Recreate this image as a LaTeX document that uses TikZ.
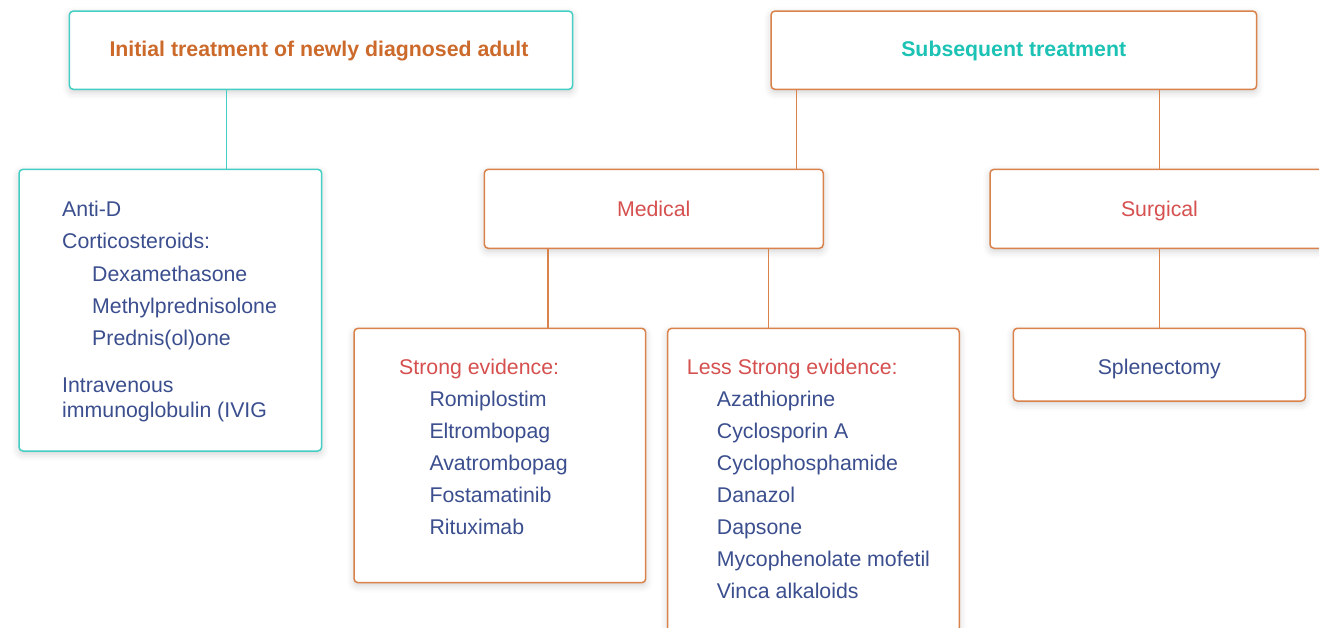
\documentclass[tikz,border=0pt]{standalone}
\usepackage{fontspec}
\setmainfont{Liberation Sans}
\usetikzlibrary{shadows.blur}
\definecolor{tealline}{HTML}{45CFC4}
\definecolor{tealtext}{HTML}{1CC3B5}
\definecolor{orangeline}{HTML}{D9824B}
\definecolor{orangetext}{HTML}{CC6A2C}
\definecolor{redtext}{HTML}{D5504F}
\definecolor{bluetext}{HTML}{3B4E8E}
\tikzset{
  boxbase/.style={draw, line width=1.5pt, rounded corners=4pt, fill=white, inner sep=0pt,
    blur shadow={shadow xshift=0pt, shadow yshift=-3pt, shadow blur radius=7pt, shadow opacity=18}},
  tealbox/.style={boxbase, draw=tealline},
  orangebox/.style={boxbase, draw=orangeline},
  tealconn/.style={draw=tealline, line width=1.5pt},
  orangeconn/.style={draw=orangeline, line width=1.5pt},
  txt/.style={inner sep=0pt, font=\fontsize{21.3}{25}\selectfont},
  item/.style={txt, anchor=base west, text=bluetext},
  head/.style={txt, anchor=base west, text=redtext},
  ctitle/.style={txt, anchor=base, font=\fontsize{21.3}{25}\selectfont\bfseries},
}
\begin{document}
\begin{tikzpicture}[x=1pt, y=-1pt]
\useasboundingbox (0,0) rectangle (1319,628);
% boxes
\node[tealbox, minimum width=503.4pt, minimum height=78.3pt] (init) at (321,50.2) {};
\node[orangebox, minimum width=485.7pt, minimum height=78.3pt] (subs) at (1013.85,50.2) {};
\node[tealbox, minimum width=302.7pt, minimum height=281.7pt] (left) at (170.35,310.15) {};
\node[orangebox, minimum width=339pt, minimum height=79pt] (med) at (653.8,208.8) {};
\node[orangebox, minimum width=350pt, minimum height=79pt] (surg) at (1165,208.8) {};
\node[orangebox, minimum width=291.7pt, minimum height=254.4pt] (strong) at (499.85,455.5) {};
\node[orangebox, minimum width=291.6pt, minimum height=331.7pt] (less) at (813.5,494.15) {};
\node[orangebox, minimum width=292pt, minimum height=72.7pt] (splen) at (1159.3,364.65) {};
% connector columns
\coordinate (c1) at (226.7,0);
\coordinate (c2) at (796.7,0);
\coordinate (c3) at (1159.3,0);
\coordinate (c4) at (548,0);
\coordinate (c5) at (768.7,0);
\draw[tealconn] (init.south -| c1) -- (left.north -| c1);
\draw[orangeconn] (subs.south -| c2) -- (med.north -| c2);
\draw[orangeconn] (subs.south -| c3) -- (surg.north -| c3);
\draw[orangeconn] (med.south -| c4) -- (strong.north -| c4);
\draw[orangeconn] (med.south -| c5) -- (less.north -| c5);
\draw[orangeconn] (surg.south -| c3) -- (splen.north -| c3);
% titles
\node[ctitle, text=orangetext] (tinit) at (319,56.5) {Initial treatment of newly diagnosed adult};
\node[ctitle, text=tealtext] (tsubs) at (1013.7,56.5) {Subsequent treatment};
\node[txt, anchor=base, text=redtext] (tmed) at (653.7,217) {Medical};
\node[txt, anchor=base, text=redtext] (tsurg) at (1159.5,217) {Surgical};
\node[txt, anchor=base, text=bluetext] (tsplen) at (1159.3,374.5) {Splenectomy};
% left list
\node[item] (l1) at (62,217) {Anti-D};
\node[item] (l2) at (62,249) {Corticosteroids:};
\node[item] (l3) at (92,281) {Dexamethasone};
\node[item] (l4) at (92,313) {Methylprednisolone};
\node[item] (l5) at (92,345) {Prednis(ol)one};
\node[item] (l6) at (62,392) {Intravenous};
\node[item] (l7) at (62,417) {immunoglobulin (IVIG};
% strong list
\node[head] (s0) at (399,374) {Strong evidence:};
\node[item] (s1) at (429.3,406) {Romiplostim};
\node[item] (s2) at (429.3,438) {Eltrombopag};
\node[item] (s3) at (429.3,470) {Avatrombopag};
\node[item] (s4) at (429.3,502) {Fostamatinib};
\node[item] (s5) at (429.3,534) {Rituximab};
% less strong list
\node[head] (m0) at (686.7,374) {Less Strong evidence:};
\node[item] (m1) at (716.7,406) {Azathioprine};
\node[item] (m2) at (716.7,438) {Cyclosporin A};
\node[item] (m3) at (716.7,470) {Cyclophosphamide};
\node[item] (m4) at (716.7,502) {Danazol};
\node[item] (m5) at (716.7,534) {Dapsone};
\node[item] (m6) at (716.7,566) {Mycophenolate mofetil};
\node[item] (m7) at (716.7,598) {Vinca alkaloids};
\end{tikzpicture}
\end{document}
